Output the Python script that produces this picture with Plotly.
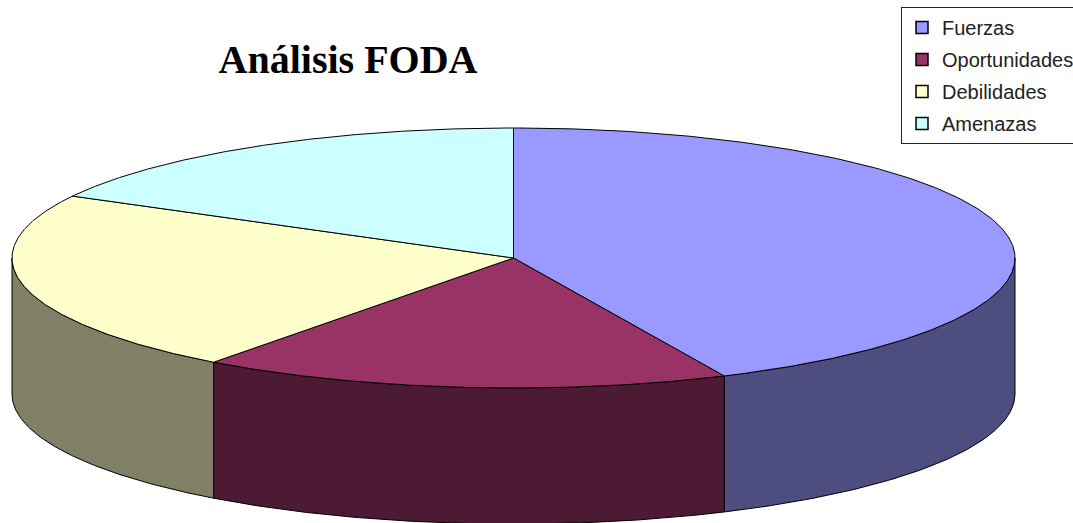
import numpy as np
import plotly.graph_objects as go

categories = ["Fuerzas", "Oportunidades", "Debilidades", "Amenazas"]
values = [43.1, 17.1, 22.7, 17.1]
title_text = "Análisis FODA"
top_colors = ["#9999FF", "#993366", "#FFFFCC", "#CCFFFF"]
side_colors = ["#4D4D80", "#4D1A33", "#808066", "#668080"]

W, H = 1073, 523
CX, CY, RX, RY, DEPTH = 513.5, 258, 501.5, 130, 136


def ring(t, dy=0.0):
    return CX + RX * np.sin(t), CY + dy - RY * np.cos(t)


shares = np.array(values, dtype=float) / sum(values)
edges = np.concatenate([[0.0], np.cumsum(shares)]) * 2 * np.pi

fig = go.Figure()

# Visible wall of the disc: only the front half (90 to 270 degrees clockwise from the top)
for i in range(len(values)):
    a, b = max(edges[i], np.pi / 2), min(edges[i + 1], 3 * np.pi / 2)
    if b <= a:
        continue
    t = np.linspace(a, b, 120)
    x1, y1 = ring(t)
    x2, y2 = ring(t[::-1], DEPTH)
    fig.add_trace(go.Scatter(
        x=np.concatenate([x1, x2, x1[:1]]), y=np.concatenate([y1, y2, y1[:1]]),
        mode="lines", fill="toself", fillcolor=side_colors[i],
        line=dict(color="#000000", width=1), showlegend=False, hoverinfo="skip",
    ))

# Top face slices
for i, name in enumerate(categories):
    t = np.linspace(edges[i], edges[i + 1], 240)
    x, y = ring(t)
    fig.add_trace(go.Scatter(
        x=np.concatenate([[CX], x, [CX]]), y=np.concatenate([[CY], y, [CY]]),
        mode="lines", fill="toself", fillcolor=top_colors[i],
        line=dict(color="#000000", width=1), showlegend=False, name=name,
        hoverinfo="name",
    ))

# Legend entries
for i, name in enumerate(categories):
    fig.add_trace(go.Scatter(
        x=[None], y=[None], mode="markers", name=name, legendgroup=name,
        marker=dict(symbol="square", size=12, color=top_colors[i],
                    line=dict(color="#000000", width=1.5)),
    ))

fig.update_layout(
    width=W, height=H, autosize=False,
    margin=dict(l=0, r=0, t=0, b=0, autoexpand=False),
    paper_bgcolor="#FFFFFF", plot_bgcolor="#FFFFFF",
    xaxis=dict(range=[0, W], visible=False, fixedrange=True),
    yaxis=dict(range=[H, 0], visible=False, fixedrange=True),
    title=dict(text="<b>" + title_text + "</b>", x=348 / W, xanchor="center",
               y=1 - 59 / H, yanchor="middle",
               font=dict(family="Liberation Serif", size=40, color="#000000")),
    legend=dict(x=901 / W, xanchor="left", y=1 - 7 / H, yanchor="top",
                bgcolor="#FFFFFF", bordercolor="#222222", borderwidth=1,
                font=dict(family="Liberation Sans", size=20, color="#222222"),
                tracegroupgap=3, itemclick=False, itemdoubleclick=False),
)
fig.write_html("out.html", config={"displayModeBar": False},
               post_script="document.body.style.margin='0';document.documentElement.style.overflow='hidden';")
